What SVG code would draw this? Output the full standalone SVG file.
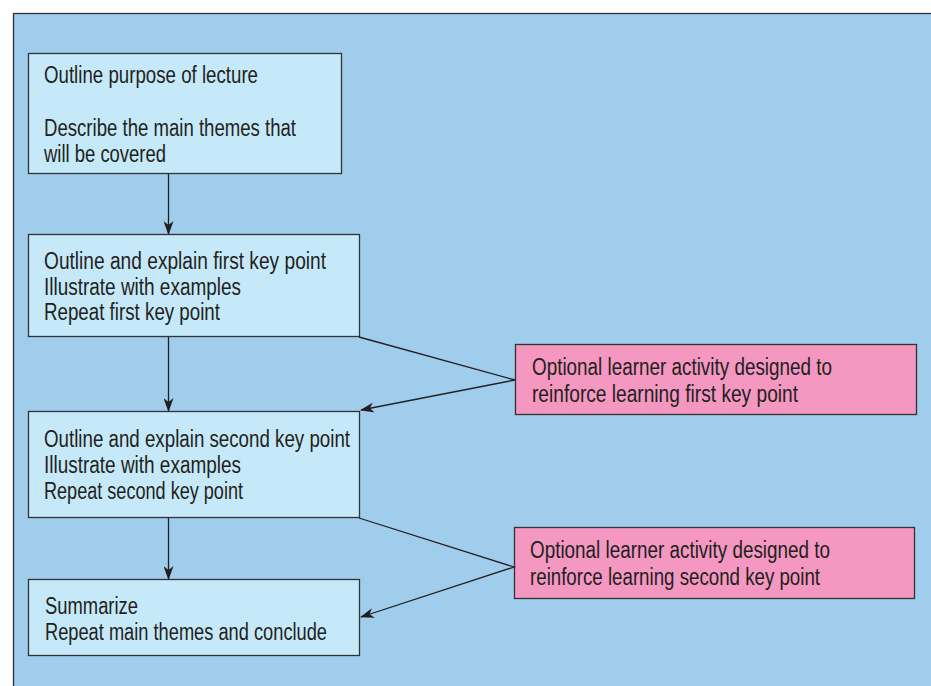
<svg xmlns="http://www.w3.org/2000/svg" width="931" height="686" viewBox="0 0 931 686">
<defs>
<style>
.bg{fill:#ffffff}
.panel{fill:#9fcdeb;stroke:#333333;stroke-width:1.3}
.box{fill:#c6e9f9;stroke:#333333;stroke-width:1.3}
.opt{fill:#f497c1;stroke:#333333;stroke-width:1.3}
.t{font-family:"Liberation Sans",Arial,sans-serif;font-size:23.5px;fill:#231f20}
.c{fill:none;stroke:#231f20;stroke-width:1.3}
</style>
<marker id="ah" viewBox="0 0 14 10" refX="13" refY="5" markerWidth="14" markerHeight="10" markerUnits="userSpaceOnUse" orient="auto">
<path d="M0,0 L14,5 L0,10 L4,5 z" fill="#231f20"/>
</marker>
</defs>
<rect class="bg" x="0" y="0" width="931" height="686"/>
<rect class="panel" x="13.5" y="13.5" width="930" height="690"/>

<g id="n1">
<rect class="box" x="28.5" y="53.5" width="313" height="120"/>
<text class="t" x="44" y="83" textLength="214" lengthAdjust="spacingAndGlyphs">Outline purpose of lecture</text>
<text class="t" x="44" y="136" textLength="252" lengthAdjust="spacingAndGlyphs">Describe the main themes that</text>
<text class="t" x="44" y="162" textLength="122" lengthAdjust="spacingAndGlyphs">will be covered</text>
</g>

<g id="n2">
<rect class="box" x="28.5" y="234.5" width="331" height="102"/>
<text class="t" x="44" y="269" textLength="282" lengthAdjust="spacingAndGlyphs">Outline and explain first key point</text>
<text class="t" x="44" y="295" textLength="197" lengthAdjust="spacingAndGlyphs">Illustrate with examples</text>
<text class="t" x="44" y="320" textLength="176" lengthAdjust="spacingAndGlyphs">Repeat first key point</text>
</g>

<g id="n3">
<rect class="box" x="28.5" y="411.5" width="331" height="106"/>
<text class="t" x="44" y="447" textLength="306" lengthAdjust="spacingAndGlyphs">Outline and explain second key point</text>
<text class="t" x="44" y="473" textLength="197" lengthAdjust="spacingAndGlyphs">Illustrate with examples</text>
<text class="t" x="44" y="499" textLength="199" lengthAdjust="spacingAndGlyphs">Repeat second key point</text>
</g>

<g id="n4">
<rect class="box" x="28.5" y="579.5" width="331" height="76"/>
<text class="t" x="45" y="614" textLength="93" lengthAdjust="spacingAndGlyphs">Summarize</text>
<text class="t" x="45" y="640" textLength="282" lengthAdjust="spacingAndGlyphs">Repeat main themes and conclude</text>
</g>

<g id="o1">
<rect class="opt" x="515.5" y="344.5" width="401" height="70"/>
<text class="t" x="532" y="375" textLength="300" lengthAdjust="spacingAndGlyphs">Optional learner activity designed to</text>
<text class="t" x="532" y="402" textLength="266" lengthAdjust="spacingAndGlyphs">reinforce learning first key point</text>
</g>

<g id="o2">
<rect class="opt" x="514.5" y="527.5" width="400" height="71"/>
<text class="t" x="530" y="558" textLength="300" lengthAdjust="spacingAndGlyphs">Optional learner activity designed to</text>
<text class="t" x="530" y="585" textLength="290" lengthAdjust="spacingAndGlyphs">reinforce learning second key point</text>
</g>

<g id="connectors">
<line class="c" x1="168.5" y1="174" x2="168.5" y2="234" marker-end="url(#ah)"/>
<line class="c" x1="168.5" y1="337" x2="168.5" y2="411" marker-end="url(#ah)"/>
<line class="c" x1="168.5" y1="518" x2="168.5" y2="579" marker-end="url(#ah)"/>
<polyline class="c" points="359,337 515,380 361,410" marker-end="url(#ah)"/>
<polyline class="c" points="359,518 514,567 361,617" marker-end="url(#ah)"/>
</g>
</svg>
